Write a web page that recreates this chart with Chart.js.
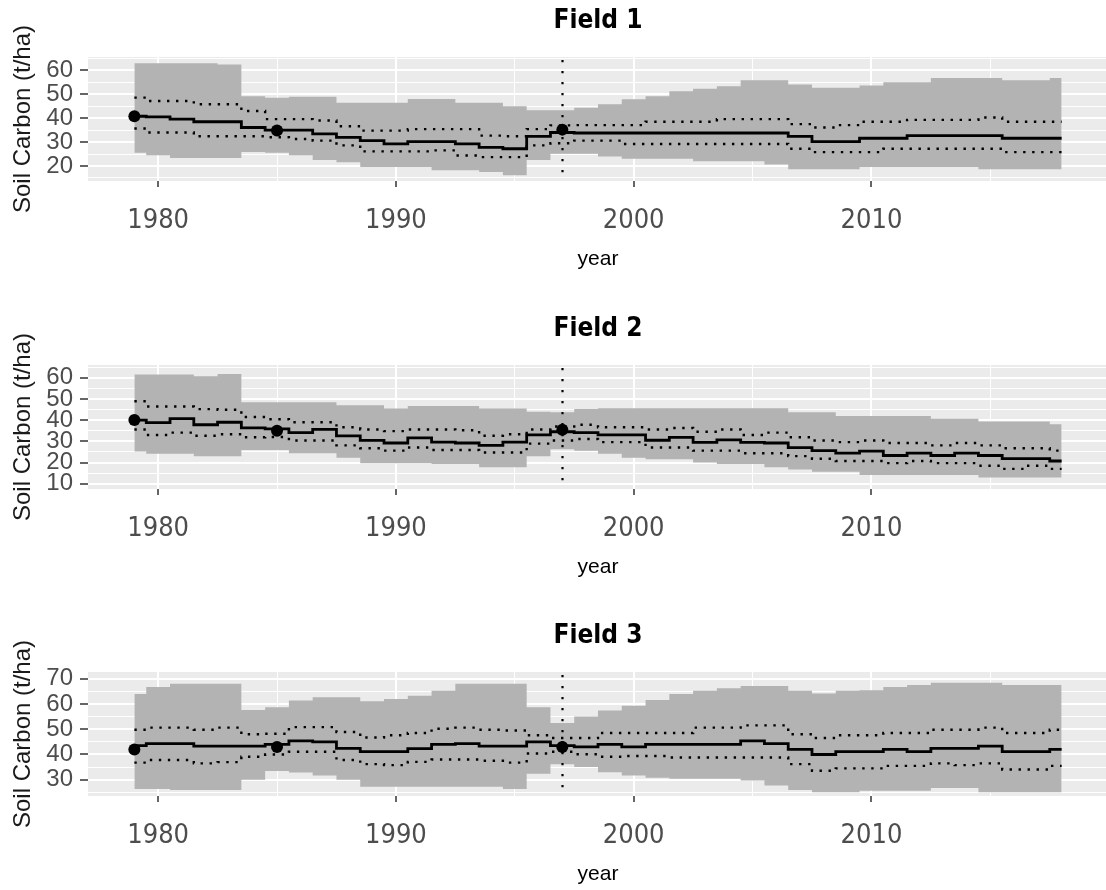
<!DOCTYPE html>
<html>
<head>
<meta charset="utf-8">
<title>Soil Carbon by field</title>
<script src="https://cdn.jsdelivr.net/npm/chart.js@4.4.1/dist/chart.umd.min.js"></script>
<style>
  html, body { margin: 0; padding: 0; background: #fff; }
  body { width: 1106px; height: 890px; overflow: hidden; position: relative; }
  .panel { position: absolute; left: 0; width: 1114px; height: 285px; }
</style>
</head>
<body>
<div class="panel" style="top:0px"><canvas id="field1" width="1114" height="285"></canvas></div>
<div class="panel" style="top:308px"><canvas id="field2" width="1114" height="285"></canvas></div>
<div class="panel" style="top:615px"><canvas id="field3" width="1114" height="285"></canvas></div>
<script>
// years of the simulation
const years = [1979, 1980, 1981, 1982, 1983, 1984, 1985, 1986, 1987, 1988,
  1989, 1990, 1991, 1992, 1993, 1994, 1995, 1996, 1997, 1998,
  1999, 2000, 2001, 2002, 2003, 2004, 2005, 2006, 2007, 2008,
  2009, 2010, 2011, 2012, 2013, 2014, 2015, 2016, 2017, 2018];

// years with soil samples (points) and the last one (dotted vertical)
const sampleYears = [1979, 1985, 1997];
const lastSampleYear = 1997;

// Field 1
const mean1 = [40.8, 40.5, 39.6, 38.5, 38.5, 36.1, 35, 35, 33.4, 32,
  30.6, 29.2, 30.2, 30.2, 29.2, 27.8, 27.2, 32.4, 34, 33.8,
  33.8, 33.8, 33.8, 33.8, 33.8, 33.8, 33.8, 33.8, 32.4, 30.2,
  30.2, 31.6, 31.6, 32.7, 32.7, 32.7, 32.7, 31.6, 31.6, 31.6];
const upper1 = [48.6, 47.2, 47.2, 45.8, 45.8, 43, 39.6, 39.6, 39, 36.6,
  34.8, 34.8, 35.4, 35.4, 35.4, 32.7, 32.4, 35.4, 37, 37.1,
  37.1, 37.1, 38.5, 38.5, 38.5, 39.6, 39.6, 39.6, 37.5, 36.1,
  37.1, 38.5, 38.5, 39.3, 39.3, 39.3, 40.3, 38.5, 38.5, 38.5];
const lower1 = [35.7, 34, 34, 32.4, 32.4, 32.4, 32, 31.3, 30.6, 28.6,
  26.1, 26.1, 26.1, 26.5, 24.4, 23.7, 23.7, 28.6, 29.5, 30.6,
  30.6, 29.2, 29.2, 29.2, 29.2, 29.2, 29.2, 29.2, 27.2, 25.8,
  25.8, 25.8, 27.2, 27.2, 27.2, 27.2, 27.2, 25.8, 25.8, 25.8];
const bandHi1 = [63, 63, 63, 63, 62.5, 49.2, 48.5, 49, 49, 46.5,
  46.5, 46.5, 48, 48, 46.5, 46.5, 45, 43.3, 43.3, 44.4,
  45.8, 47.9, 49.2, 51.3, 52.3, 53.4, 55.9, 55.9, 54.1, 52.7,
  52.7, 53.7, 55, 55, 56.8, 56.8, 56.8, 55.9, 55.9, 56.8];
const bandLo1 = [25.5, 24.5, 23.3, 23.3, 23.3, 25.8, 25.5, 24.5, 22.5, 21.5,
  19.6, 19.6, 19.6, 18.2, 18.2, 17.5, 16.1, 22.5, 25.1, 25.1,
  24, 23, 23, 23, 22, 22, 22, 20.6, 18.6, 18.6,
  18.6, 19.6, 19.6, 19.6, 19.6, 19.6, 18.6, 18.6, 18.6, 18.6];
const samples1 = [40.8, 34.8, 35.2];

// Field 2
const mean2 = [40, 38.8, 40.7, 37.8, 39, 36.3, 35.9, 34.1, 35.6, 32.6,
  30.4, 29.2, 31.6, 29.6, 29.2, 28.1, 29.6, 33, 34.5, 34.1,
  33, 33, 30.5, 31.9, 29.5, 30.7, 29.5, 29.2, 27, 25.6,
  24.4, 25.4, 23.3, 24.4, 23.3, 24.4, 23.3, 21.8, 21.8, 20.7];
const upper2 = [48.9, 46.4, 46.4, 45.2, 44.9, 41.5, 40.4, 39, 39, 36.6,
  35.6, 34.8, 35.6, 35.6, 35.2, 32.6, 33.3, 35.6, 37, 37.8,
  36.6, 36.6, 35.6, 36.3, 34.5, 35.6, 33, 34.1, 31.9, 30.4,
  29.6, 30.4, 29.2, 29.2, 28.1, 29.2, 28.1, 26.7, 26.7, 25.6];
const lower2 = [35.6, 33, 34.1, 32.6, 33.3, 31.9, 32, 30.4, 30.4, 28.1,
  26.7, 25.6, 27.1, 25.9, 25.9, 24.7, 24.7, 28.9, 30.4, 31.1,
  29.6, 29.6, 27.1, 27.1, 25.6, 25.6, 24.4, 24.4, 23, 21.8,
  20.7, 20.7, 19.7, 20.7, 19.7, 19.7, 18.5, 17, 18.5, 17];
const bandHi2 = [61.5, 61.5, 61.5, 60.7, 61.8, 48.4, 48.4, 48.4, 48.4, 47,
  47, 45.5, 46.7, 46.7, 46.7, 45.5, 45.5, 44, 43.7, 45.2,
  45.6, 45.6, 45.6, 45.6, 45.6, 45.6, 45.6, 45.6, 43.7, 43.7,
  41.9, 41.9, 41.9, 41.9, 40.7, 40.7, 39.3, 39.3, 39.3, 38.1];
const bandLo2 = [25.2, 24.1, 24.1, 23, 23, 25.9, 25.9, 24.4, 24.4, 22.2,
  19.7, 19.7, 19.7, 19.3, 19.3, 17.8, 17.8, 23, 26.2, 25.6,
  24.1, 22.2, 21.5, 21.5, 20, 19.3, 19.3, 17.8, 16.7, 15.6,
  15.6, 14.1, 14.1, 14.1, 14.1, 14.1, 12.9, 12.9, 12.9, 12.9];
const samples2 = [40, 35, 35.5];

// Field 3
const mean3 = [43.5, 44.3, 44.3, 43.3, 43.3, 43.3, 44, 45.4, 45, 42.4,
  41.1, 41.1, 42.3, 44, 44.3, 43.3, 43.3, 45, 43.5, 43,
  44, 43, 44, 44, 44, 44, 45.4, 44.3, 42, 40,
  41.1, 41.1, 42, 41.1, 42.4, 42.4, 43.3, 41.1, 41.1, 42];
const upper3 = [49.8, 50.6, 50.6, 49.8, 50.6, 48, 48.2, 50.8, 50.8, 48.9,
  46.7, 47.6, 48.5, 50.2, 50.6, 49.8, 49.5, 47.6, 46.5, 46.5,
  48.5, 48.5, 48.5, 48.5, 50.6, 50.6, 51.5, 51.5, 48, 46.5,
  47.6, 47.6, 48.5, 48.5, 49.8, 49.8, 50.6, 48.5, 48.5, 49.8];
const lower3 = [36.8, 37.8, 37.8, 36.5, 37, 39.1, 40, 41.1, 41.1, 37.8,
  36.2, 35.8, 37.1, 38, 38, 37.5, 36.8, 40.4, 41.1, 40.1,
  39.1, 39.4, 39.4, 38.8, 38.8, 38.8, 38.8, 38.8, 36.2, 33.6,
  34.5, 34.5, 35.5, 35.5, 36.5, 35.8, 36.5, 34.1, 34.1, 35.5];
const bandHi3 = [63.9, 66.7, 68, 68, 68, 57.6, 58.7, 61.3, 62.6, 62.6,
  61, 61.9, 63.2, 65.2, 68, 68, 68, 58.7, 52.4, 55,
  57.4, 59.3, 61.5, 63.9, 65.2, 66.2, 67.1, 67.1, 65.2, 64.1,
  65.2, 65.4, 66.7, 67.5, 68.4, 68.4, 68.4, 67.5, 67.5, 67.5];
const bandLo3 = [26.4, 26.4, 26, 26, 26, 30, 33.5, 32.9, 31.7, 30,
  27.3, 27.3, 27.3, 27.3, 27.3, 27.3, 26.4, 32.4, 36.1, 35.1,
  33, 31.7, 30.8, 30.4, 30.4, 30.4, 29.7, 27.7, 26, 25.1,
  25.1, 25.7, 25.7, 25.7, 26.8, 26.8, 25.1, 25.1, 25.1, 25.1];
const samples3 = [42, 43, 43];

// axis breaks (major labelled, minor only as grid lines)
const xBreaks = [1980, 1985, 1990, 1995, 2000, 2005, 2010, 2015];
const yBreaks1 = [15, 20, 25, 30, 35, 40, 45, 50, 55, 60, 65];
const yBreaks2 = [10, 15, 20, 25, 30, 35, 40, 45, 50, 55, 60, 65];
const yBreaks3 = [25, 30, 35, 40, 45, 50, 55, 60, 65, 70];

const NARROW = "'DejaVu Sans Condensed', 'Liberation Sans Narrow', sans-serif";
const SANS = "'Liberation Sans', Arial, sans-serif";

const pts = vals => vals.map((v, i) => ({ x: years[i], y: v }));
const isMajor = ctx => ctx.tick && ctx.tick.value % 10 === 0;

// grey panel behind the grid
const panelBg = {
  id: 'panelBg',
  beforeDraw(chart) {
    const { ctx, chartArea: a } = chart;
    ctx.save();
    ctx.fillStyle = '#EBEBEB';
    ctx.fillRect(a.left, a.top, a.right - a.left, a.bottom - a.top);
    ctx.restore();
  }
};

// dotted vertical line at the last sample year
const sampleLine = {
  id: 'sampleLine',
  afterDatasetsDraw(chart) {
    const { ctx, chartArea: a } = chart;
    const x = Math.round(chart.scales.x.getPixelForValue(lastSampleYear)) + 0.5;
    ctx.save();
    ctx.strokeStyle = '#000';
    ctx.lineWidth = 2.2;
    ctx.setLineDash([2.2, 8.8]);
    ctx.beginPath();
    ctx.moveTo(x, a.top + 3);
    ctx.lineTo(x, a.bottom);
    ctx.stroke();
    ctx.restore();
  }
};

function makeChart(id, title, mean, upper, lower, hi, lo, samples, yMin, yMax, yBreaks) {
  const ctx = document.getElementById(id).getContext('2d');
  return new Chart(ctx, {
    type: 'line',
    data: {
      datasets: [
        {
          data: sampleYears.map((y, i) => ({ x: y, y: samples[i] })),
          showLine: false,
          pointRadius: 6,
          pointBackgroundColor: '#000',
          pointBorderWidth: 0
        },
        {
          data: pts(mean),
          borderColor: '#000',
          borderWidth: 2.8,
          stepped: 'middle',
          pointRadius: 0
        },
        {
          data: pts(upper),
          borderColor: '#000',
          borderWidth: 2.4,
          borderDash: [2.4, 6.6],
          stepped: 'middle',
          pointRadius: 0
        },
        {
          data: pts(lower),
          borderColor: '#000',
          borderWidth: 2.4,
          borderDash: [2.4, 6.6],
          stepped: 'middle',
          pointRadius: 0
        },
        {
          data: pts(hi),
          borderColor: 'rgba(0,0,0,0)',
          borderWidth: 0,
          backgroundColor: '#B3B3B3',
          fill: '+1',
          stepped: 'middle',
          pointRadius: 0
        },
        {
          data: pts(lo),
          borderColor: 'rgba(0,0,0,0)',
          borderWidth: 0,
          fill: false,
          stepped: 'middle',
          pointRadius: 0
        }
      ]
    },
    options: {
      responsive: false,
      animation: false,
      events: [],
      layout: { padding: 0 },
      plugins: {
        legend: { display: false },
        tooltip: { enabled: false },
        title: {
          display: true,
          text: title,
          fullSize: false,
          color: '#000',
          font: { family: NARROW, size: 26, weight: 'bold' },
          padding: { top: 6, bottom: 19.8 }
        }
      },
      scales: {
        x: {
          type: 'linear',
          min: 1977.05,
          max: 2019.95,
          afterBuildTicks: s => { s.ticks = xBreaks.map(v => ({ value: v })); },
          afterFit: s => { s.height = 104; },
          border: { display: false },
          grid: {
            color: '#FFFFFF',
            lineWidth: ctx => isMajor(ctx) ? 2 : 1,
            tickColor: ctx => isMajor(ctx) ? '#333333' : 'rgba(0,0,0,0)',
            tickWidth: 1.5,
            tickLength: 6
          },
          ticks: {
            autoSkip: false,
            maxRotation: 0,
            padding: 18,
            color: '#4D4D4D',
            font: { family: NARROW, size: 27 },
            callback: v => v % 10 === 0 ? String(v) : ''
          },
          title: {
            display: true,
            text: 'year',
            color: '#000',
            font: { family: SANS, size: 21 },
            padding: { top: 0, bottom: 13 }
          }
        },
        y: {
          min: yMin,
          max: yMax,
          afterBuildTicks: s => { s.ticks = yBreaks.map(v => ({ value: v })); },
          afterFit: s => { s.width = 88; },
          border: { display: false },
          grid: {
            color: '#FFFFFF',
            lineWidth: ctx => isMajor(ctx) ? 2 : 1,
            tickColor: ctx => isMajor(ctx) ? '#333333' : 'rgba(0,0,0,0)',
            tickWidth: 1.5,
            tickLength: 8
          },
          ticks: {
            autoSkip: false,
            padding: 7,
            color: '#4D4D4D',
            font: { family: SANS, size: 24 },
            callback: v => v % 10 === 0 ? String(v) : ''
          },
          title: {
            display: true,
            text: 'Soil Carbon (t/ha)',
            color: '#1a1a1a',
            font: { family: SANS, size: 24 },
            padding: { top: 9, bottom: 0 }
          }
        }
      }
    },
    plugins: [panelBg, sampleLine]
  });
}

document.addEventListener("DOMContentLoaded", () => {
  makeChart('field1', 'Field 1', mean1, upper1, lower1, bandHi1, bandLo1, samples1, 13.7, 65.6, yBreaks1);
  makeChart('field2', 'Field 2', mean2, upper2, lower2, bandHi2, bandLo2, samples2, 7.5, 66, yBreaks2);
  makeChart('field3', 'Field 3', mean3, upper3, lower3, bandHi3, bandLo3, samples3, 23.6, 72.6, yBreaks3);
});
</script>
</body>
</html>
